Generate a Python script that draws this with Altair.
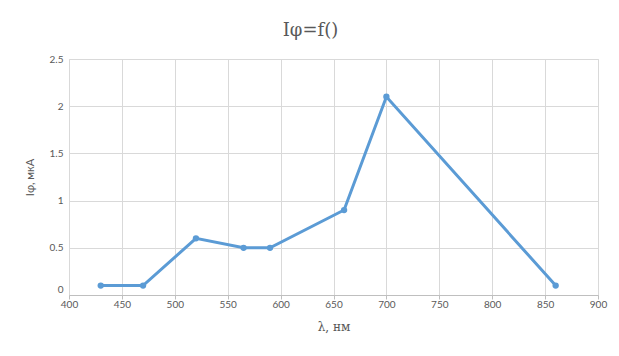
import altair as alt
import pandas as pd

wavelength = [430, 470, 520, 565, 590, 660, 700, 860]
current = [0.1, 0.1, 0.6, 0.5, 0.5, 0.9, 2.1, 0.1]

df = pd.DataFrame({"x": wavelength, "y": current})

base = alt.Chart(df).encode(
    x=alt.X("x:Q", scale=alt.Scale(domain=[400, 900], nice=False),
            axis=alt.Axis(values=list(range(400, 901, 50)), title="λ, нм",
                          titleFont="DejaVu Serif", titleFontSize=12, titleFontWeight="normal",
                          titleColor="#595959", titlePadding=12,
                          labelFont="Lato", labelFontSize=10, labelColor="#595959",
                          labelFlush=False, labelOverlap=False,
                          domainColor="#bfbfbf", tickColor="#bfbfbf", tickSize=4,
                          gridColor="#d9d9d9", labelPadding=0)),
    y=alt.Y("y:Q", scale=alt.Scale(domain=[0, 2.5], nice=False),
            axis=alt.Axis(values=[0, 0.5, 1, 1.5, 2, 2.5], title="Iφ, мкА",
                          labelExpr="datum.value + ''",
                          labelOffset={"condition": {"test": "datum.value == 0", "value": -6}, "value": 0},
                          titleFont="Lato", titleFontSize=11, titleFontWeight="normal",
                          titleColor="#595959", titlePadding=14,
                          labelFont="Lato", labelFontSize=10, labelColor="#595959",
                          domain=False, ticks=False, gridColor="#d9d9d9", labelPadding=6)),
)

line = base.mark_line(color="#5B9BD5", strokeWidth=3)
pts = base.mark_circle(color="#5B9BD5", size=40, opacity=1)

chart = (line + pts).properties(
    width=529, height=236,
    title=alt.TitleParams("Iφ=f()", font="DejaVu Serif", fontSize=18, fontWeight="normal",
                          color="#595959", dx=-23, offset=14),
    autosize=alt.AutoSizeParams(type="none"),
    padding={"left": 61, "top": 51, "right": 13, "bottom": 53},
).configure_view(stroke=None).configure(background="white")

chart.save("out.html", embed_options={"renderer": "svg", "actions": False})
